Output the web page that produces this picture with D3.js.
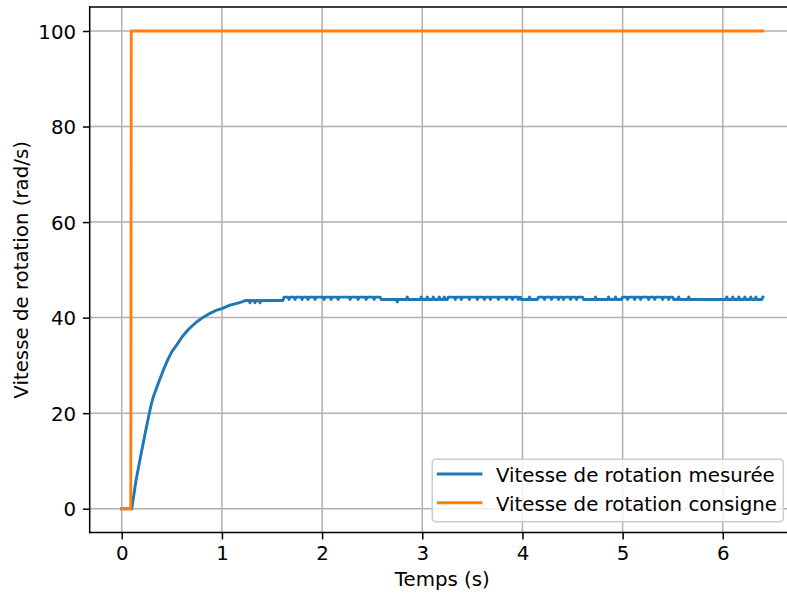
<!DOCTYPE html>
<html>
<head>
<meta charset="utf-8">
<script src="https://cdn.jsdelivr.net/npm/d3@7"></script>
<style>
    html, body { margin: 0; padding: 0; background: #fff; }
    svg { display: block; font-family: 'DejaVu Sans', sans-serif; }
</style>
</head>
<body>
<div id="chart"></div>
<script>
const xTicks = [0, 1, 2, 3, 4, 5, 6]
const yTicks = [0, 20, 40, 60, 80, 100]
const xLabel = 'Temps (s)'
const yLabel = 'Vitesse de rotation (rad/s)'
const seriesNames = ['Vitesse de rotation mesurée', 'Vitesse de rotation consigne']
const seriesColors = ['#1f77b4', '#ff7f0e']

// consigne : echelon a ~0.09 s
const setpoint = [[0, 0], [0.09, 0], [0.095, 100], [6.40, 100]]

const measured = [
    [0, 0], [0.10, 0], [0.143, 6.0], [0.183, 10.4], [0.23, 15.4], [0.275, 20.0],
    [0.295, 21.9], [0.315, 23.4], [0.35, 25.4], [0.382, 27.2], [0.415, 29.0], [0.46, 31.2],
    [0.50, 32.9], [0.549, 34.3], [0.60, 35.9], [0.66, 37.4], [0.715, 38.5], [0.76, 39.3],
    [0.815, 40.1], [0.881, 40.9], [0.94, 41.5], [1.00, 41.9], [1.08, 42.6], [1.15, 43.0],
    [1.20, 43.3],
    [1.24, 43.6], [1.27, 43.6], [1.28, 43.1], [1.29, 43.6], [1.32, 43.6], [1.33, 43.1],
    [1.34, 43.6], [1.37, 43.6], [1.38, 43.1], [1.39, 43.6], [1.61, 43.6], [1.62, 44.3],
    [1.66, 44.3], [1.67, 43.8], [1.68, 44.3], [1.72, 44.3], [1.73, 43.8], [1.74, 44.3],
    [1.79, 44.3], [1.80, 43.8], [1.81, 44.3], [1.85, 44.3], [1.86, 43.8], [1.87, 44.3],
    [1.92, 44.3], [1.93, 43.8], [1.94, 44.3], [2.01, 44.3], [2.02, 43.8], [2.03, 44.3],
    [2.08, 44.3], [2.09, 43.8], [2.10, 44.3], [2.15, 44.3], [2.16, 43.8], [2.17, 44.3],
    [2.27, 44.3], [2.28, 43.8], [2.29, 44.3], [2.35, 44.3], [2.36, 43.8], [2.37, 44.3],
    [2.43, 44.3], [2.44, 43.8], [2.45, 44.3], [2.51, 44.3], [2.52, 43.8], [2.53, 44.3],
    [2.58, 44.3], [2.59, 43.8],
    [2.74, 43.8], [2.75, 43.3], [2.76, 43.8], [2.84, 43.8], [2.85, 44.3], [2.86, 43.8],
    [2.98, 43.8], [2.99, 44.3], [3.00, 43.8], [3.04, 43.8], [3.05, 44.3], [3.06, 43.8],
    [3.10, 43.8], [3.11, 44.3], [3.12, 43.8], [3.16, 43.8], [3.17, 44.3], [3.18, 43.8],
    [3.21, 43.8], [3.22, 44.3], [3.23, 43.8], [3.25, 43.8], [3.26, 44.3],
    [3.32, 44.3], [3.33, 43.8], [3.34, 44.3], [3.38, 44.3], [3.39, 43.8], [3.40, 44.3],
    [3.46, 44.3], [3.47, 43.8], [3.48, 44.3], [3.54, 44.3], [3.55, 43.8], [3.56, 44.3],
    [3.61, 44.3], [3.62, 43.8], [3.63, 44.3], [3.67, 44.3], [3.68, 43.8], [3.69, 44.3],
    [3.75, 44.3], [3.76, 43.8], [3.77, 44.3], [3.83, 44.3], [3.84, 43.8], [3.85, 44.3],
    [3.89, 44.3], [3.90, 43.8], [3.91, 44.3], [3.95, 44.3], [3.96, 43.8], [3.97, 44.3],
    [3.98, 44.3], [3.99, 43.8],
    [4.06, 43.8], [4.07, 44.3], [4.08, 43.8], [4.15, 43.8], [4.16, 44.3],
    [4.21, 44.3], [4.22, 43.8], [4.23, 44.3], [4.28, 44.3], [4.29, 43.8], [4.30, 44.3],
    [4.35, 44.3], [4.36, 43.8], [4.37, 44.3], [4.40, 44.3], [4.41, 43.8], [4.42, 44.3],
    [4.47, 44.3], [4.48, 43.8], [4.49, 44.3], [4.53, 44.3], [4.54, 43.8], [4.55, 44.3],
    [4.60, 44.3], [4.61, 43.8],
    [4.72, 43.8], [4.73, 44.3], [4.74, 43.8], [4.85, 43.8], [4.86, 44.3], [4.87, 43.8],
    [4.92, 43.8], [4.93, 44.3], [4.94, 43.8], [4.99, 43.8], [5.00, 44.3],
    [5.04, 44.3], [5.05, 43.8], [5.06, 44.3], [5.11, 44.3], [5.12, 43.8], [5.13, 44.3],
    [5.17, 44.3], [5.18, 43.8], [5.19, 44.3], [5.25, 44.3], [5.26, 43.8], [5.27, 44.3],
    [5.31, 44.3], [5.32, 43.8], [5.33, 44.3], [5.39, 44.3], [5.40, 43.8], [5.41, 44.3],
    [5.45, 44.3], [5.46, 43.8], [5.47, 44.3], [5.50, 44.3], [5.51, 43.8],
    [5.55, 43.8], [5.56, 44.3], [5.57, 43.8], [5.65, 43.8], [5.66, 44.3], [5.67, 43.8],
    [5.99, 43.8],
    [6.03, 43.8], [6.04, 44.3], [6.05, 43.8], [6.09, 43.8], [6.10, 44.3], [6.11, 43.8],
    [6.15, 43.8], [6.16, 44.3], [6.17, 43.8], [6.21, 43.8], [6.22, 44.3], [6.23, 43.8],
    [6.27, 43.8], [6.28, 44.3], [6.29, 43.8], [6.32, 43.8], [6.33, 44.3], [6.34, 43.8],
    [6.39, 43.8], [6.40, 44.3],
]

const width = 787
const height = 599
const fontSize = 19.8
const box = { left: 89.7, right: 794.9, top: 7.1, bottom: 532.6 }

const svg = d3.select('#chart').append('svg')
    .attr('width', width)
    .attr('height', height)

svg.append('rect')
    .attr('width', width)
    .attr('height', height)
    .attr('fill', '#fff')

const x = d3.scaleLinear()
    .domain([-0.32, 6.72])
    .range([box.left, box.right])

const y = d3.scaleLinear()
    .domain([-5, 105])
    .range([box.bottom, box.top])

// grille
const grid = svg.append('g')
    .attr('stroke', '#b0b0b0')
    .attr('stroke-width', 1.5)

grid.selectAll('.gx')
    .data(xTicks)
    .enter().append('line')
        .attr('x1', d => x(d))
        .attr('x2', d => x(d))
        .attr('y1', box.top)
        .attr('y2', box.bottom)

grid.selectAll('.gy')
    .data(yTicks)
    .enter().append('line')
        .attr('x1', box.left)
        .attr('x2', box.right)
        .attr('y1', d => y(d))
        .attr('y2', d => y(d))

// axes
const xAxis = d3.axisBottom(x)
    .tickValues(xTicks)
    .tickFormat(d3.format('d'))
    .tickSize(6.8)
    .tickSizeOuter(0)
    .tickPadding(6.8)

const yAxis = d3.axisLeft(y)
    .tickValues(yTicks)
    .tickFormat(d3.format('d'))
    .tickSize(6.8)
    .tickSizeOuter(0)
    .tickPadding(6.8)

const gx = svg.append('g')
    .attr('transform', 'translate(0,' + box.bottom + ')')
    .call(xAxis)

const gy = svg.append('g')
    .attr('transform', 'translate(' + box.left + ',0)')
    .call(yAxis)

;[gx, gy].forEach(g => {
    g.select('.domain').remove()
    g.attr('font-family', 'DejaVu Sans, sans-serif')
        .attr('font-size', fontSize)
    g.selectAll('.tick line')
        .attr('stroke', '#000')
        .attr('stroke-width', 1.5)
    g.selectAll('.tick text')
        .attr('fill', '#000')
})
gy.selectAll('.tick text').attr('dy', '0.36em')

// courbes
const line = d3.line()
    .x(d => x(d[0]))
    .y(d => y(d[1]))

const plot = svg.append('g')

;[measured, setpoint].forEach((data, i) => {
    plot.append('path')
        .attr('d', line(data))
        .attr('fill', 'none')
        .attr('stroke', seriesColors[i])
        .attr('stroke-width', 2.9)
        .attr('stroke-linejoin', 'round')
        .attr('stroke-linecap', 'square')
})

// cadre
const spines = svg.append('g')
    .attr('stroke', '#000')
    .attr('stroke-width', 1.5)
    .attr('stroke-linecap', 'square')

spines.append('line')
    .attr('x1', box.left).attr('x2', box.left)
    .attr('y1', box.top).attr('y2', box.bottom)
spines.append('line')
    .attr('x1', box.left).attr('x2', box.right)
    .attr('y1', box.bottom).attr('y2', box.bottom)
spines.append('line')
    .attr('x1', box.left).attr('x2', box.right)
    .attr('y1', box.top).attr('y2', box.top)
spines.append('line')
    .attr('x1', box.right).attr('x2', box.right)
    .attr('y1', box.top).attr('y2', box.bottom)

// titres des axes
svg.append('text')
    .attr('x', (box.left + box.right) / 2)
    .attr('y', 586)
    .attr('text-anchor', 'middle')
    .attr('font-size', fontSize)
    .text(xLabel)

svg.append('text')
    .attr('transform', 'translate(28,' + (box.top + box.bottom) / 2 + ') rotate(-90)')
    .attr('text-anchor', 'middle')
    .attr('font-size', fontSize)
    .text(yLabel)

// legende
const legend = svg.append('g')
    .attr('transform', 'translate(432.3,459.3)')

legend.append('rect')
    .attr('width', 351)
    .attr('height', 62.4)
    .attr('rx', 3.5)
    .attr('fill', '#fff')
    .attr('fill-opacity', 0.8)
    .attr('stroke', '#cccccc')
    .attr('stroke-width', 1.5)

const rows = legend.selectAll('.row')
    .data(seriesNames)
    .enter().append('g')
        .attr('transform', (d, i) => 'translate(0,' + (14.7 + i * 28.7) + ')')

rows.append('line')
    .attr('x1', 6)
    .attr('x2', 48.7)
    .attr('stroke', (d, i) => seriesColors[i])
    .attr('stroke-width', 2.9)
    .attr('stroke-linecap', 'square')

rows.append('text')
    .attr('x', 63.7)
    .attr('y', 8.3)
    .attr('font-size', fontSize)
    .text(d => d)
</script>
</body>
</html>
